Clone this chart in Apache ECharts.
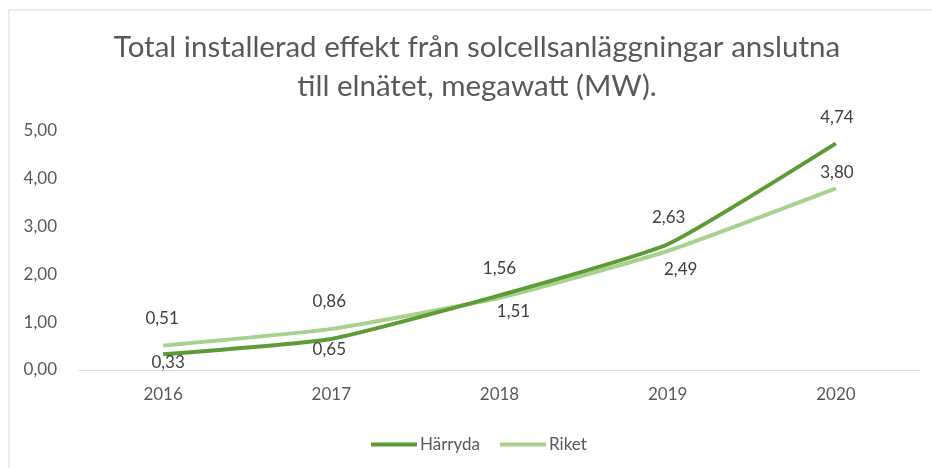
<!DOCTYPE html>
<html>
<head>
<meta charset="utf-8">
<script src="https://cdn.jsdelivr.net/npm/echarts@6/dist/echarts.min.js"></script>
<style>
  html, body { margin: 0; padding: 0; background: #fff; }
  #chart { width: 932px; height: 468px; }
</style>
</head>
<body>
<div id="chart"></div>
<script>
const years = ['2016', '2017', '2018', '2019', '2020']
const harryda = [0.33, 0.65, 1.56, 2.63, 4.74]
const riket = [0.51, 0.86, 1.51, 2.49, 3.80]
const titleText = 'Total installerad effekt från solcellsanläggningar anslutna\ntill elnätet, megawatt (MW).'

// label offsets (center of label relative to point)
const harrydaLabelOffset = [[5, 8], [-2, 11], [0, -27], [1, -27], [1, -26]]
const riketLabelOffset = [[-1, -27], [-2, -27], [14, 14], [13, 19], [1, -16]]

const fontFamily = 'Lato, "Open Sans", sans-serif'
const fmt = (v) => v.toFixed(2).replace('.', ',')

function buildData(values, offsets) {
  return values.map((v, i) => ({
    value: v,
    label: { offset: offsets[i] },
  }))
}

const chart = echarts.init(document.getElementById('chart'))

const labelStyle = {
  show: true,
  position: 'inside',
  fontFamily,
  fontSize: 17,
  color: '#404040',
  formatter: (p) => fmt(p.value),
}

const option = {
  backgroundColor: '#fff',
  animation: false,
  graphic: [
    {
      type: 'rect',
      shape: { x: 9, y: 10, width: 940, height: 480 },
      style: { fill: 'none', stroke: '#d9d9d9', lineWidth: 1 },
      silent: true,
    },
    {
      type: 'text',
      x: 477,
      y: 28,
      silent: true,
      style: {
        text: titleText,
        align: 'center',
        verticalAlign: 'top',
        font: '29.5px ' + fontFamily,
        fill: '#595959',
        lineHeight: 39,
      },
    },
  ],
  legend: {
    top: 431,
    left: 366,
    itemWidth: 46,
    itemHeight: 4,
    itemGap: 20,
    icon: 'rect',
    textStyle: { fontFamily, fontSize: 17, color: '#595959', padding: [0, 0, 0, -2] },
    data: ['Härryda', 'Riket'],
  },
  grid: {
    left: 79,
    right: 12,
    top: 131,
    bottom: 98,
  },
  xAxis: {
    type: 'category',
    data: years,
    boundaryGap: true,
    axisLine: { lineStyle: { color: '#d9d9d9', width: 1 } },
    axisTick: { show: false },
    axisLabel: { fontFamily, fontSize: 17, color: '#595959', margin: 16 },
  },
  yAxis: {
    type: 'value',
    min: 0,
    max: 5,
    interval: 1,
    splitLine: { show: false },
    axisLine: { show: false },
    axisTick: { show: false },
    axisLabel: {
      fontFamily,
      fontSize: 17,
      color: '#595959',
      margin: 22,
      formatter: (v) => fmt(v),
    },
  },
  series: [
    {
      name: 'Härryda',
      type: 'line',
      data: buildData(harryda, harrydaLabelOffset),
      smooth: 0.15,
      symbol: 'circle',
      symbolSize: 0.1,
      lineStyle: { color: '#5c9b36', width: 4 },
      itemStyle: { color: '#5c9b36' },
      label: labelStyle,
      z: 3,
    },
    {
      name: 'Riket',
      type: 'line',
      data: buildData(riket, riketLabelOffset),
      smooth: 0.15,
      symbol: 'circle',
      symbolSize: 0.1,
      lineStyle: { color: '#a9d18e', width: 4 },
      itemStyle: { color: '#a9d18e' },
      label: labelStyle,
      z: 2,
    },
  ],
}

chart.setOption(option)
window.addEventListener('resize', () => chart.resize())
</script>
</body>
</html>
